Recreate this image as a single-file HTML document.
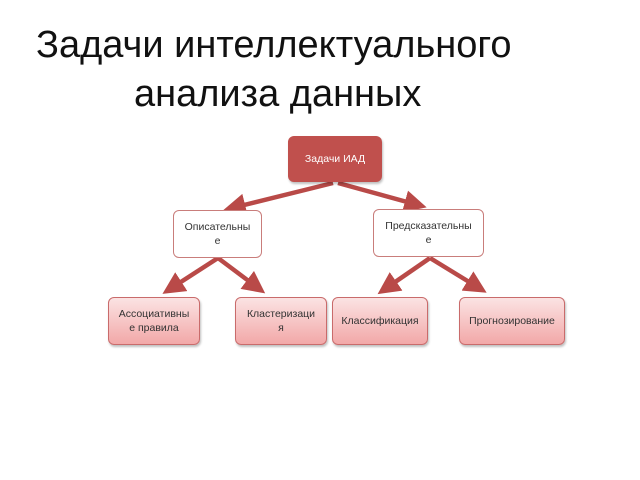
<!DOCTYPE html>
<html><head><meta charset="utf-8"><style>
body{margin:0;width:640px;height:480px;background:#fff;position:relative;overflow:hidden;font-family:"Liberation Sans","DejaVu Sans",sans-serif}
.t{position:absolute;font-size:38px;color:#111;white-space:nowrap}
.b{position:absolute;box-sizing:border-box;border-radius:6px;display:flex;align-items:center;justify-content:center;text-align:center;font-size:10.5px;line-height:14px;color:#333}
.w{background:#fff;border:1px solid #c97d7b}
.p{background:linear-gradient(#fbe3e3,#f2a8a8);border:1px solid #c96b6b;box-shadow:1px 2px 2px rgba(0,0,0,.25)}
</style></head><body>
<div class="t" style="left:36px;top:24px">Задачи интеллектуального</div>
<div class="t" style="left:134px;top:73px">анализа данных</div>
<svg width="640" height="480" style="position:absolute;left:0;top:0">
<defs><marker id="a" markerWidth="5" markerHeight="5" refX="3" refY="2.5" orient="auto" markerUnits="strokeWidth"><path d="M0,0L5,2.5L0,5z" fill="#b94a48"/></marker></defs>
<g stroke="#b94a48" stroke-width="4.5" fill="none" marker-end="url(#a)">
<line x1="333" y1="183" x2="232" y2="208"/>
<line x1="338" y1="183" x2="418" y2="205"/>
<line x1="218" y1="258" x2="170" y2="289"/>
<line x1="218" y1="258" x2="258" y2="288"/>
<line x1="430" y1="258" x2="385" y2="289"/>
<line x1="430" y1="258" x2="479" y2="288"/>
</g></svg>
<div class="b" style="left:288px;top:136px;width:94px;height:46px;background:#c0504d;border-radius:6px;color:#fff;box-shadow:1px 2px 2px rgba(0,0,0,.25)">Задачи ИАД</div>
<div class="b w" style="left:173px;top:210px;width:89px;height:48px">Описательны<br>е</div>
<div class="b w" style="left:373px;top:209px;width:111px;height:48px">Предсказательны<br>е</div>
<div class="b p" style="left:108px;top:297px;width:92px;height:48px">Ассоциативны<br>е правила</div>
<div class="b p" style="left:235px;top:297px;width:92px;height:48px">Кластеризаци<br>я</div>
<div class="b p" style="left:332px;top:297px;width:96px;height:48px">Классификация</div>
<div class="b p" style="left:459px;top:297px;width:106px;height:48px">Прогнозирование</div>
</body></html>
